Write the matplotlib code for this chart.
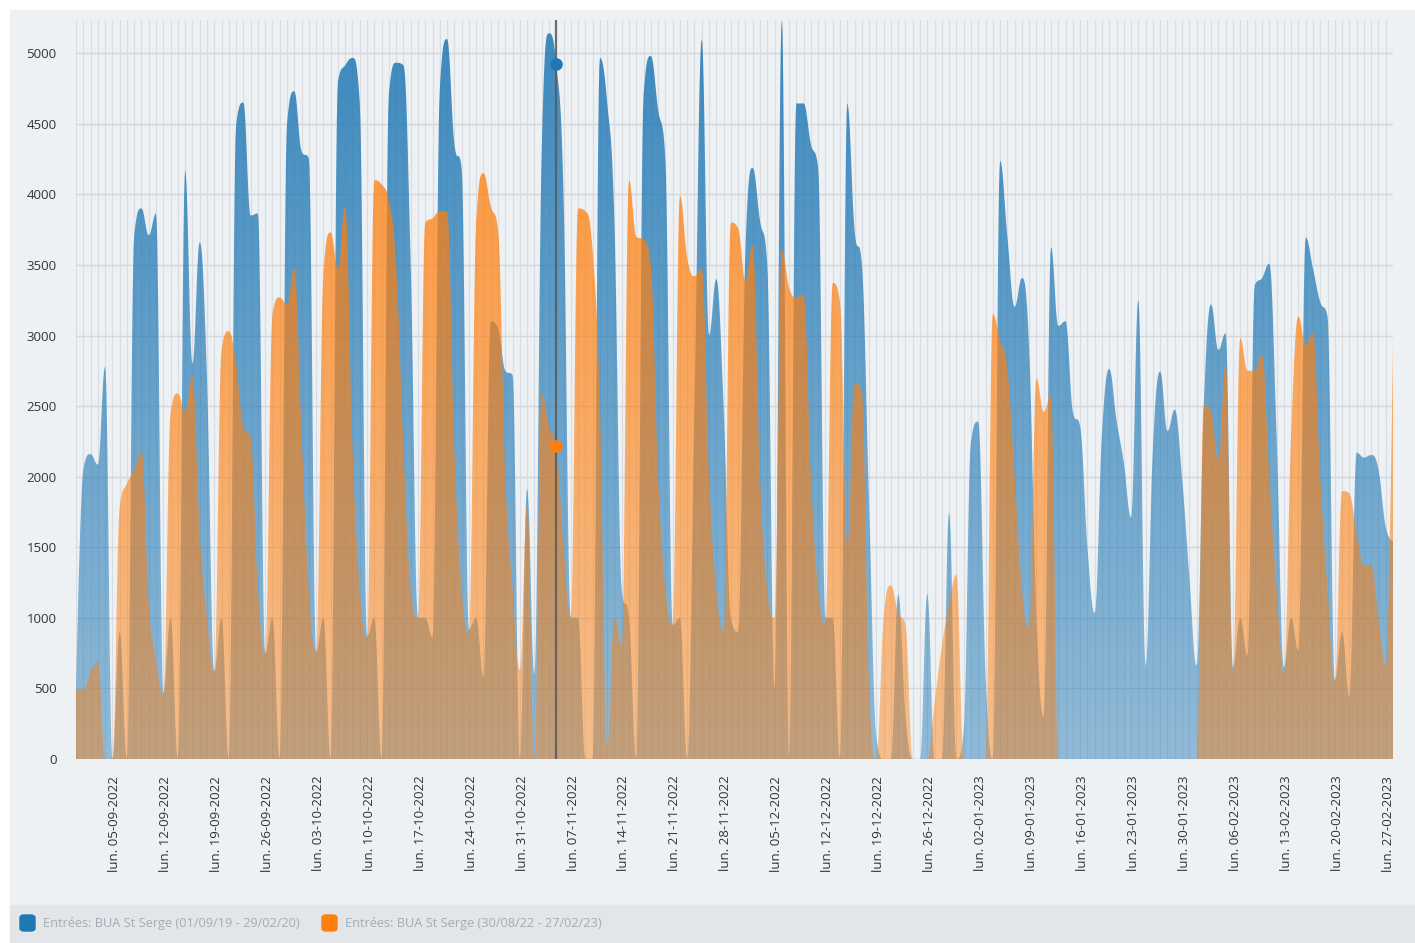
import numpy as np
import pandas as pd
import matplotlib
matplotlib.use('Agg')
import matplotlib.pyplot as plt
import matplotlib.colors as mcolors
import matplotlib.transforms as mtransforms
from matplotlib.patches import Rectangle, FancyBboxPatch, PathPatch

plt.rcParams['font.family'] = ['Open Sans', 'DejaVu Sans']

# daily entries, x axis = 30/08/2022 .. 27/02/2023
start_date = '2022-08-30'
blue_label = 'Entrées: BUA St Serge (01/09/19 - 29/02/20)'
orange_label = 'Entrées: BUA St Serge (30/08/22 - 27/02/23)'

blue = [480, 2050, 2160, 2085, 2780, 0, 900, 0, 3710, 3900, 3710, 3865, 470, 1000,
        0, 4170, 2800, 3660, 2700, 620, 1000, 0, 4490, 4650, 3850, 3865, 750, 1000,
        0, 4500, 4730, 4305, 4254, 760, 1000, 0, 4800, 4915, 4966, 4650, 870, 1000,
        0, 4712, 4932, 4915, 3500, 1000, 1000, 860, 4750, 5100, 4356, 4186, 920, 1000,
        580, 3100, 3050, 2750, 2720, 0, 1915, 600, 4300, 5140, 4920, 4000, 1000, 1000,
        0, 0, 4966, 4650, 3800, 1200, 1000, 0, 4700, 4980, 4600, 4250, 950, 1000,
        0, 2500, 5100, 3000, 3400, 2500, 1000, 900, 3600, 4187, 3814, 3509, 500, 5237,
        0, 4644, 4644, 4356, 4187, 1000, 1000, 0, 4644, 3746, 3509, 1800, 150, 0,
        0, 1170, 300, 0, 0, 1170, 0, 0, 1746, 0, 200, 2250, 2390, 600,
        0, 4237, 3700, 3203, 3407, 2898, 1000, 300, 3627, 3068, 3102, 2458, 2356, 1500,
        1034, 2300, 2763, 2400, 2100, 1712, 3254, 661, 2200, 2746, 2322, 2475, 2000, 1300,
        660, 2500, 3220, 2898, 3017, 650, 1000, 730, 3356, 3407, 3509, 2300, 650, 1000,
        766, 3695, 3475, 3237, 3136, 560, 900, 440, 2170, 2136, 2153, 2051, 1644, 1542]

orange = [490, 490, 610, 690, 0, 0, 1780, 1950, 2050, 2180, 1100, 700, 453, 2450,
          2590, 2460, 2710, 1600, 1000, 616, 2900, 3030, 2800, 2350, 2280, 1200, 750, 3150,
          3270, 3220, 3475, 2300, 1200, 750, 3440, 3730, 3475, 3915, 2200, 1200, 857, 4100,
          4070, 3950, 3500, 2200, 1200, 1000, 3800, 3830, 3880, 3880, 2200, 1200, 890, 3800,
          4150, 3915, 3750, 2000, 1200, 630, 1800, 0, 2593, 2350, 2217, 1500, 1000, 3900,
          3880, 3600, 2500, 80, 1000, 800, 4100, 3700, 3680, 3500, 2000, 1200, 950, 3990,
          3550, 3420, 3475, 2000, 1200, 900, 3800, 3760, 3390, 3644, 2000, 1200, 1000, 3610,
          3339, 3271, 3288, 2000, 1200, 960, 3373, 3237, 1500, 2661, 2600, 500, 0, 1000,
          1230, 1034, 950, 0, 0, 0, 400, 800, 1100, 1305, 0, 0, 0, 0,
          3153, 2966, 2763, 2000, 1200, 930, 2695, 2458, 2576, 0, 0, 0, 0, 0,
          0, 0, 0, 0, 0, 0, 0, 0, 0, 0, 0, 0, 0, 0,
          0, 2508, 2458, 2119, 2797, 609, 2983, 2750, 2750, 2864, 2000, 1200, 609, 2300,
          3136, 2932, 3017, 2000, 1200, 540, 1898, 1881, 1600, 1373, 1373, 1000, 660, 2932]

hover_day = 66
YMAX = 5235


def spline(vals, smoothing=1.5, steps=16):
    # same control point rule as highcharts areaspline
    y = np.asarray(vals, dtype=float)
    n = len(y)
    x = np.arange(n, dtype=float)
    lx, ly = x.copy(), y.copy()
    rx, ry = x.copy(), y.copy()
    d = smoothing + 1
    for i in range(1, n - 1):
        px, py = x[i], y[i]
        lcx = (smoothing * px + x[i - 1]) / d
        lcy = (smoothing * py + y[i - 1]) / d
        rcx = (smoothing * px + x[i + 1]) / d
        rcy = (smoothing * py + y[i + 1]) / d
        corr = (rcy - lcy) * (rcx - px) / (rcx - lcx) + py - rcy
        lcy += corr
        rcy += corr
        if lcy > y[i - 1] and lcy > py:
            lcy = max(y[i - 1], py)
            rcy = 2 * py - lcy
        elif lcy < y[i - 1] and lcy < py:
            lcy = min(y[i - 1], py)
            rcy = 2 * py - lcy
        if rcy > y[i + 1] and rcy > py:
            rcy = max(y[i + 1], py)
            lcy = 2 * py - rcy
        elif rcy < y[i + 1] and rcy < py:
            rcy = min(y[i + 1], py)
            lcy = 2 * py - rcy
        lx[i], ly[i], rx[i], ry[i] = lcx, lcy, rcx, rcy
    t = np.linspace(0, 1, steps)[:-1]
    a, b, c, e = (1 - t) ** 3, 3 * (1 - t) ** 2 * t, 3 * (1 - t) * t ** 2, t ** 3
    xs, ys = [], []
    for i in range(n - 1):
        xs.append(a * x[i] + b * rx[i] + c * lx[i + 1] + e * x[i + 1])
        ys.append(a * y[i] + b * ry[i] + c * ly[i + 1] + e * y[i + 1])
    xs.append([x[-1]])
    ys.append([y[-1]])
    return np.concatenate(xs), np.concatenate(ys)


def gradient_area(ax, vals, color, a_top, a_bot, z):
    xs, ys = spline(vals)
    poly = ax.fill_between(xs, 0, ys, facecolor='none', edgecolor='none')
    clip = PathPatch(poly.get_paths()[0], transform=ax.transData,
                     facecolor='none', edgecolor='none')
    ax.add_patch(clip)
    img = np.zeros((256, 1, 4))
    img[:, 0, :3] = mcolors.to_rgb(color)
    img[:, 0, 3] = np.linspace(a_top, a_bot, 256)
    im = ax.imshow(img, aspect='auto', origin='upper', interpolation='bilinear',
                   extent=[0, len(vals) - 1, 0, YMAX], zorder=z)
    im.set_clip_path(clip)


dates = pd.date_range(start_date, periods=len(orange))
days = np.arange(len(orange))

fig = plt.figure(figsize=(14.15, 9.43), dpi=100)
fig.patch.set_facecolor('white')
fig.patches.append(Rectangle((10 / 1415, 38 / 943), 1, (905 - 10) / 943,
                             transform=fig.transFigure, color='#edf1f4', zorder=-10))
fig.patches.append(Rectangle((10 / 1415, 0), 1, 38 / 943,
                             transform=fig.transFigure, color='#e2e6e9', zorder=-10))

ax = fig.add_axes([76 / 1415, (943 - 759) / 943, 1317 / 1415, 739 / 943])
ax.set_facecolor('none')

for d in days:
    ax.axvline(d, color='#d9dde1', lw=0.8, zorder=1)
for v in range(0, 5001, 500):
    ax.axhline(v, color='#d3d7db', lw=1, zorder=1)

gradient_area(ax, blue, '#1f77b4', 0.86, 0.45, 2)
gradient_area(ax, orange, '#ff7f0e', 0.85, 0.45, 3)

# crosshair of the tooltip
ax.axvline(hover_day, color='#5a5a5a', lw=1.6, alpha=0.85, zorder=4)
ax.plot(hover_day, blue[hover_day], 'o', color='#1f77b4', ms=8, zorder=5)
ax.plot(hover_day, orange[hover_day], 'o', color='#ff7f0e', ms=8, zorder=5)

ax.set_xlim(0, len(orange) - 1)
ax.set_ylim(0, YMAX)
ax.set_yticks(range(0, 5001, 500))
ax.tick_params(axis='y', length=0, pad=14, labelsize=9.5, labelcolor='#333333')

mondays = days[dates.weekday == 0]
ax.set_xticks(mondays)
ax.set_xticklabels(['lun. ' + dates[i].strftime('%d-%m-%Y') for i in mondays],
                   rotation=90, va='top', ha='center')
ax.tick_params(axis='x', length=0, pad=12, labelsize=9.5, labelcolor='#333333')
shift = mtransforms.ScaledTranslation(-5 / 100, 0, fig.dpi_scale_trans)
for lab in ax.get_xticklabels():
    lab.set_transform(lab.get_transform() + shift)

for s in ax.spines.values():
    s.set_visible(False)

# legend
for x0, col, lab in [(20, '#1f77b4', blue_label), (322, '#ff7f0e', orange_label)]:
    fig.patches.append(FancyBboxPatch((x0 / 1415, 12 / 943), 15 / 1415, 16 / 943,
                                      boxstyle='round,pad=0,rounding_size=0.003',
                                      transform=fig.transFigure, color=col))
    fig.text((x0 + 23) / 1415, 20 / 943, lab, color='#a3acb5', fontsize=9.2,
             va='center', ha='left')

fig.savefig('out.png', dpi=100)
